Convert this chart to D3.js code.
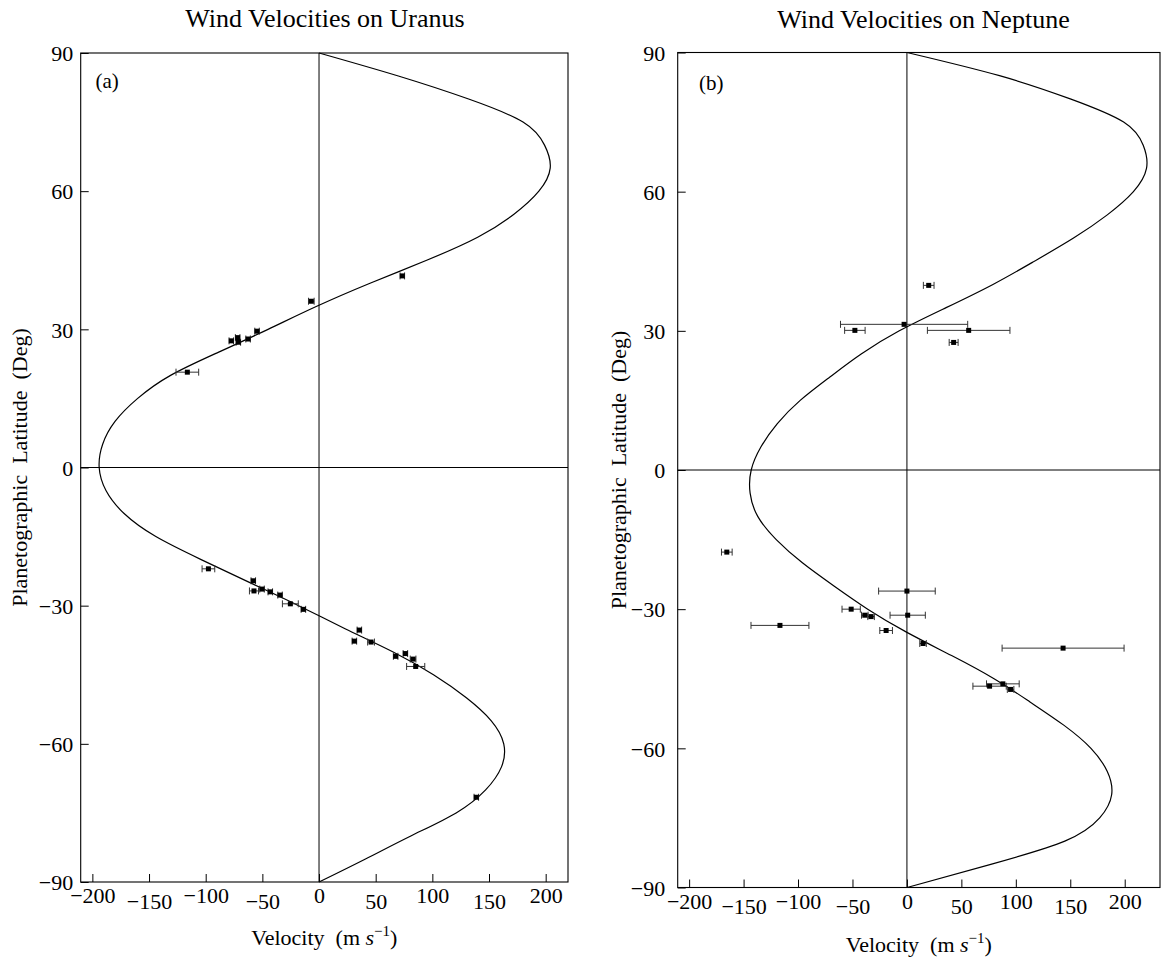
<!DOCTYPE html>
<html>
<head>
<meta charset="utf-8">
<script src="https://cdn.jsdelivr.net/npm/d3@7"></script>
<style>
  body { margin: 0; background: #fff; }
  svg { display: block; }
  text { font-family: "Liberation Serif", "Times New Roman", serif; fill: #000; }
</style>
</head>
<body>
<svg id="chart" width="1164" height="960"></svg>
<script>
// ---- Tick values shared by both panels ----
const velocityTicks = [-200, -150, -100, -50, 0, 50, 100, 150, 200];
const latitudeTicks = [-90, -60, -30, 0, 30, 60, 90];

// ---- Uranus: measured cloud-feature winds ----
const uranusLat = [20.7, 27.5, 28.2, 27.2, 27.9, 29.6, 36.1, 41.6,
  -22.0, -24.6, -26.8, -26.4, -27.0, -27.7, -29.6, -30.8,
  -35.3, -37.7, -37.9, -41.0, -40.4, -41.6, -43.2, -71.6];
const uranusVel = [-116.2, -77.4, -71.8, -71.2, -62.6, -54.7, -6.8, 73.5,
  -97.6, -58.0, -57.4, -50.3, -43.0, -34.4, -25.3, -13.8,
  35.6, 31.2, 45.9, 67.6, 76.2, 83.0, 85.3, 138.8];
const uranusErr = [10, 2, 2, 2, 2, 2, 2.5, 2,
  5.6, 2, 4, 2, 2, 2, 7, 2,
  2, 2, 3, 2, 2, 2.5, 8, 2];

// ---- Uranus: fitted zonal wind profile, sampled every 5 degrees ----
const profileLat = [90, 85, 80, 75, 70, 65, 60, 55, 50, 45, 40, 35, 30, 25, 20, 15, 10, 5, 0,
  -5, -10, -15, -20, -25, -30, -35, -40, -45, -50, -55, -60, -65, -70, -75, -80, -85, -90];
const uranusCurveVel = [0, 70, 132, 180, 199, 204, 194, 172, 140, 95, 45, -2, -45, -89, -131, -160, -180, -191, -194,
  -188, -172, -144, -104, -61, -18, 23, 65, 101, 130, 152, 163, 161, 147, 121, 81, 41, 0];

// ---- Neptune: measured cloud-feature winds ----
const neptuneLat = [39.8, 31.4, 30.1, 30.1, 27.5, -17.7, -26.1, -30.0, -31.3,
  -31.6, -31.3, -33.5, -34.6, -37.4, -46.1, -46.6, -47.3, -38.4];
const neptuneVel = [20.0, -2.6, -47.8, 56.7, 42.9, -165.4, 0.0, -51.2, -38.7,
  -32.9, 0.7, -116.6, -19.1, 14.8, 88.1, 75.9, 95.2, 143.4];
const neptuneErr = [4.9, 58.4, 9.4, 37.9, 4.1, 4.9, 26, 8.4, 3,
  3, 16.2, 26.6, 5.8, 3, 15, 15.3, 3, 56];

// ---- Neptune: fitted zonal wind profile, same latitude grid ----
const neptuneCurveVel = [0, 85, 150, 199, 217, 220, 208, 184, 153, 117, 79, 36, -7, -42, -71, -98, -119, -134, -143,
  -144, -137, -120, -96, -67, -36, 0, 41, 80, 113, 144, 169, 184, 188, 177, 145, 77, 0];

// ---- Panel layout ----
const panels = [
  {
    title: "Wind Velocities on Uranus", tag: "(a)",
    lat: uranusLat, vel: uranusVel, err: uranusErr,
    curveVel: uranusCurveVel,
    left: 80.7, right: 568, top: 53, bottom: 882,
    xDomain: [-210.3, 219.7],
    titleX: 325, titleY: 27, tagX: 95.5, tagY: 88,
    yLabelX: 27, yTickGap: 7.5, xLabelY: 945
  },
  {
    title: "Wind Velocities on Neptune", tag: "(b)",
    lat: neptuneLat, vel: neptuneVel, err: neptuneErr,
    curveVel: neptuneCurveVel,
    left: 677.7, right: 1160, top: 52.5, bottom: 887.5,
    xDomain: [-210.5, 232.4],
    titleX: 923.5, titleY: 28, tagX: 699, tagY: 89.5,
    yLabelX: 626, yTickGap: 12.5, xLabelY: 951.5
  }
];

const svg = d3.select("#chart");
const fmt = v => (v < 0 ? "\u2212" + Math.abs(v) : String(v));

panels.forEach(p => {
  const x = d3.scaleLinear().domain(p.xDomain).range([p.left, p.right]);
  const y = d3.scaleLinear().domain([-90, 90]).range([p.bottom, p.top]);
  const g = svg.append("g");

  // Title
  g.append("text").attr("x", p.titleX).attr("y", p.titleY)
    .attr("text-anchor", "middle").style("font-size", "26px").text(p.title);

  // Frame
  g.append("rect").attr("x", p.left).attr("y", p.top)
    .attr("width", p.right - p.left).attr("height", p.bottom - p.top)
    .attr("fill", "none").attr("stroke", "#000").attr("stroke-width", 1.1);

  // Zero reference lines
  g.append("line").attr("x1", x(0)).attr("x2", x(0)).attr("y1", p.top).attr("y2", p.bottom)
    .attr("stroke", "#000").attr("stroke-width", 1);
  g.append("line").attr("x1", p.left).attr("x2", p.right).attr("y1", y(0)).attr("y2", y(0))
    .attr("stroke", "#000").attr("stroke-width", 1);

  // Bottom axis: inward ticks, staggered labels
  const xAxis = d3.axisBottom(x).tickValues(velocityTicks).tickSizeInner(-8).tickSizeOuter(0)
    .tickPadding(0).tickFormat(fmt);
  const xg = g.append("g").attr("transform", `translate(0,${p.bottom})`).call(xAxis);
  xg.select(".domain").remove();
  xg.selectAll(".tick line").attr("stroke", "#000").attr("stroke-width", 1);
  xg.selectAll(".tick text")
    .attr("y", (d, i) => (i % 2 === 0 ? 21 : 26.5))
    .attr("dy", null)
    .style("font-size", "22px").style("font-family", "'Liberation Serif', serif")
    .attr("fill", "#000");

  // Left axis: inward ticks
  const yAxis = d3.axisLeft(y).tickValues(latitudeTicks).tickSizeInner(-8).tickSizeOuter(0)
    .tickPadding(p.yTickGap).tickFormat(fmt);
  const yg = g.append("g").attr("transform", `translate(${p.left},0)`).call(yAxis);
  yg.select(".domain").remove();
  yg.selectAll(".tick line").attr("stroke", "#000").attr("stroke-width", 1);
  yg.selectAll(".tick text")
    .attr("x", -p.yTickGap)
    .attr("dy", "0.35em")
    .style("font-size", "22px").style("font-family", "'Liberation Serif', serif")
    .attr("fill", "#000");

  // Axis titles
  const xt = g.append("text").attr("x", (p.left + p.right) / 2).attr("y", p.xLabelY)
    .attr("text-anchor", "middle").style("font-size", "22px");
  xt.append("tspan").text("Velocity\u00a0\u00a0(m\u00a0");
  xt.append("tspan").style("font-style", "italic").text("s");
  xt.append("tspan").attr("dy", -9).style("font-size", "15px").text("\u22121");
  xt.append("tspan").attr("dy", 9).text(")");

  g.append("text")
    .attr("transform", `translate(${p.yLabelX},${(p.top + p.bottom) / 2}) rotate(-90)`)
    .attr("text-anchor", "middle").style("font-size", "22px")
    .text("Planetographic\u00a0\u00a0Latitude\u00a0\u00a0(Deg)");

  // Panel tag
  g.append("text").attr("x", p.tagX).attr("y", p.tagY).style("font-size", "21px").text(p.tag);

  // Fitted profile (smooth spline through the sampled values)
  const line = d3.line()
    .x(d => x(d[1])).y(d => y(d[0]))
    .curve(d3.curveNatural);
  const curvePts = profileLat.map((la, i) => [la, p.curveVel[i]]);
  g.append("path").datum(curvePts).attr("d", line)
    .attr("fill", "none").attr("stroke", "#000").attr("stroke-width", 1.2);

  // Measurements with horizontal error bars
  const pts = p.lat.map((la, i) => ({ lat: la, v: p.vel[i], e: p.err[i] }));
  const eg = g.append("g").attr("stroke", "#333").attr("stroke-width", 1);
  eg.selectAll("line.bar").data(pts).join("line").attr("class", "bar")
    .attr("x1", d => x(d.v - d.e)).attr("x2", d => x(d.v + d.e))
    .attr("y1", d => y(d.lat)).attr("y2", d => y(d.lat));
  eg.selectAll("line.capL").data(pts).join("line").attr("class", "capL")
    .attr("x1", d => x(d.v - d.e)).attr("x2", d => x(d.v - d.e))
    .attr("y1", d => y(d.lat) - 3.5).attr("y2", d => y(d.lat) + 3.5);
  eg.selectAll("line.capR").data(pts).join("line").attr("class", "capR")
    .attr("x1", d => x(d.v + d.e)).attr("x2", d => x(d.v + d.e))
    .attr("y1", d => y(d.lat) - 3.5).attr("y2", d => y(d.lat) + 3.5);
  g.selectAll("rect.pt").data(pts).join("rect").attr("class", "pt")
    .attr("x", d => x(d.v) - 2.5).attr("y", d => y(d.lat) - 2.5)
    .attr("width", 5).attr("height", 5).attr("fill", "#000");
});
</script>
</body>
</html>
